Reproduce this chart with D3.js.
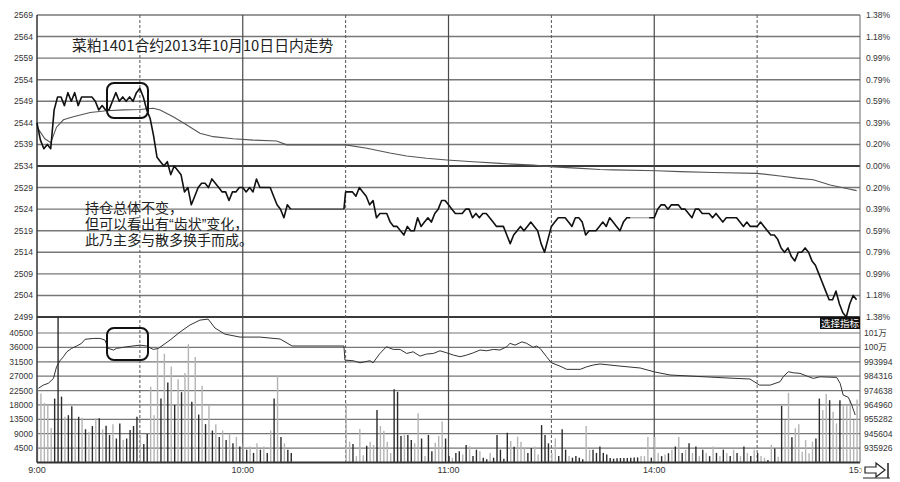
<!DOCTYPE html>
<html><head><meta charset="utf-8">
<script src="https://cdn.jsdelivr.net/npm/d3@7"></script>
<style>body{margin:0;background:#fff}svg{display:block}</style>
</head><body>
<svg id="c" width="900" height="482"></svg>
<script>
// ---------------- data ----------------
const titleText = "菜粕1401合约2013年10月10日日内走势";
const noteLines = ["持仓总体不变，", "但可以看出有“齿状”变化，", "此乃主多与散多换手而成。"];
const priceTicks = [2569,2564,2559,2554,2549,2544,2539,2534,2529,2524,2519,2514,2509,2504,2499];
const pctLabels = ["1.38%","1.18%","0.99%","0.79%","0.59%","0.39%","0.20%","0.00%","0.20%","0.39%","0.59%","0.79%","0.99%","1.18%","1.38%"];
const volTicks = [40500,36000,31500,27000,22500,18000,13500,9000,4500];
const oiLabels = ["101万","100万","993994","984316","974638","964960","955282","945604","935926"];
const timeTicks = [0,60,120,180,240];
const timeLabels = ["9:00","10:00","11:00","14:00","15:00"];
const halfHourDashed = [30,90,150,210];
const halfHourSolid = [60,120,180];
const sessionStarts = [0,90,150];
const sessionLens = [75,60,90];

const price1 = [2544,2540,2538,2539,2538,2547,2550,2550,2548,2551,
 2549,2551,2548,2550,2550,2550,2550,2549,2547,2548,
 2547,2547,2549,2551,2549,2550,2549,2550,2549,2551,
 2552,2550,2547,2545,2541,2536,2535,2534,2535,2532,
 2534,2533,2532,2528,2529,2525,2527,2529,2530,2530,
 2529,2531,2530,2529,2528,2528,2526,2528,2528,2529,
 2529,2528,2529,2528,2531,2529,2529,2529,2529,2527,
 2525,2524,2522,2525,2524];
const price2 = [2528,2528,2528,2527,2529,2528,2527,2525,2526,2522,
 2523,2523,2523,2521,2520,2520,2519,2518,2520,2519,
 2519,2522,2520,2521,2522,2521,2523,2524,2526,2526,
 2525,2524,2523,2523,2523,2524,2524,2522,2523,2522,
 2523,2523,2522,2521,2520,2520,2520,2518,2516,2518,
 2519,2520,2519,2520,2521,2520,2519,2516,2514,2517];
const price3 = [2520,2521,2522,2522,2522,2521,2520,2522,2522,2521,
 2518,2519,2519,2519,2520,2521,2520,2522,2521,2520,
 2519,2521,2522,2522,null,null,null,null,null,2522,
 2522,2524,2525,2525,2524,2525,2525,2525,2524,2524,
 2523,2522,2524,2524,2523,2523,2523,2522,2523,2522,
 2521,2522,2522,2522,2522,2521,2520,2521,2520,2520,
 2520,2521,2520,2519,2518,2518,2517,2515,2514,2515,
 2513,2512,2514,2514,2515,2514,2512,2511,2509,2507,
 2505,2503,2503,2505,2502,2500,2499,2502,2504,2503];

const vol1 = [22000,21600,18600,18000,10800,20000,50000,20600,14300,14800,
 17600,13300,14300,14000,10400,9600,11400,13800,13800,10400,
 11500,8600,12000,7500,12200,7000,7500,10200,11400,14300,
 8600,5800,8900,23700,14800,36000,20000,34000,25000,30000,
 18000,26000,22000,28000,37000,19000,33000,15000,24000,12000,
 18000,10000,12000,8000,10000,7000,9000,6000,8000,5000,
 6000,4000,5000,3000,6000,4000,5000,3000,10000,20000,
 27000,8000,6000,4000,3000];
const vol2 = [18500,6500,5800,2000,10500,2300,5200,6500,5500,16400,
 11400,9900,6500,3000,22900,22100,8300,8600,8600,7000,
 6000,15400,7500,2000,8600,3500,6200,8300,12800,7500,
 2000,1500,3000,3500,2500,5500,5000,2000,4000,3500,
 1500,1000,3000,1500,8600,4000,1200,9300,6700,4900,
 8100,6500,4500,3000,4500,5000,2500,11700,8600,6000];
const vol3 = [3000,7500,2000,10400,4000,2000,1500,2000,1500,1000,
 11400,4000,4000,3000,5000,3000,2500,1400,1200,1300,
 1400,1400,1400,1500,1600,1600,2000,2000,8000,1500,
 8000,3000,2000,2500,2900,4000,5000,8000,3000,4000,
 6000,3000,5000,2000,4000,3000,2000,5000,3000,2000,
 4000,3000,2000,4000,3000,2000,5000,3000,2000,4000,
 3000,2000,1500,800,5500,4400,1800,17700,13300,21800,
 7900,10700,12000,3400,7000,2900,6500,7500,20000,16400,
 21400,19500,15900,12200,19500,18000,18000,19500,13300,19700];
const volTone1 = "gggggkkkgkkgkgkgkgkgkkgkkgkkkkgkkgggkgkgkgkggkgkgkgkgkgkgkgkgkgkgkgkgkgkg";
const volTone2 = "kkggkgggkggkggggkkkgkkggkgkkgggkkgkkgkgkkgkkgkkkkkgkgggkk";
const volTone3 = "ggkkkggkkkgkkkkggkkkkkkkkkkkkkkgggkggkgkgkgkgkgkgkgkgkgkgkgkgkgkgkggkgkgkggkggggggkkggkggk";

const avgTimes = [0,2.3,4,5.7,7.7,10.6,15.5,20.3,25.2,30,33.9,35.9,39.7,43.7,47.5,51.4,57.2,63.1,69.9,72.8,
 90,96.2,102.9,107.8,113.6,119.5,127.2,135,144.7,150.6,157.4,164.2,168.1,180.7,187.5,197.2,209.9,216.7,221.5,226.4,231.3,236.1,239];
const avgPrice = [2543,2540.3,2539.4,2543,2544.7,2545.4,2546.4,2546.8,2547,2547.1,2547.4,2547,2545.4,2543.5,2541.6,2540.8,2540.3,2540,2539.8,2538.9,
 2538.9,2538.1,2537,2536.3,2535.8,2535.4,2535,2534.6,2534.2,2533.8,2533.5,2533.2,2533.1,2532.9,2532.7,2532.5,2532.3,2531.7,2531.2,2530.8,2529.6,2528.8,2528.3];

const oiTimes = [0.4,1.8,3.3,4.8,5.7,6.7,7.7,8.7,10.1,11.6,13,14,16.4,18.4,19.8,20.8,22.3,23.2,26.2,30,32,33.9,35.4,
 38.8,41.7,44.6,47.5,49.9,51.9,54.8,59.2,65,70.9,74.4,89.5,
 89.8,92.2,94.2,97.1,98,100,101.9,103.9,105.9,107.8,109.7,111.7,113.6,115.6,117.5,119.5,121.4,123.4,125.3,127.2,129.2,131.1,133.1,135,137,137.9,139.4,141.4,142.8,144.7,145.7,146.7,148.6,
 150,152.5,154.5,158.4,160.3,162.2,164.2,170,175.9,180.2,184.6,190.4,196.3,202.1,207.9,210.7,213.8,216.7,217.6,219.1,220.6,222.5,224.5,226.4,228.3,233.2,234.2,235.1,236.6,237.6,238.6];
const oiValues = [976100,978300,979500,982800,990600,994700,997400,1000700,1003000,1004600,1006400,1009100,1009700,1009700,1008600,1003000,1001900,1003000,1004100,1005200,1004600,1002300,1003000,
 1008600,1014000,1018700,1022000,1022700,1016700,1012600,1010600,1010600,1009300,1004600,1004600,
 995100,994700,993300,994700,993300,999600,1004100,1002300,1002300,999600,1000700,997800,999200,999600,1001400,1000000,998500,997400,998500,1000000,1001900,1001400,1002300,1001900,1004100,1006400,1005200,1007400,1006400,1003700,1004600,1003000,997400,
 993300,991100,988900,988900,990600,991800,992500,991100,989800,987100,985100,984400,983700,983000,982400,978300,978300,980600,983900,987300,986600,986200,984400,982800,983900,983500,979500,971600,970100,964900,958200];

// ---------------- layout ----------------
const L = 37, R = 860;
const svg = d3.select("#c");
const x = d3.scaleLinear().domain([0,240]).range([L,R]);
const yP = d3.scaleLinear().domain([2499,2569]).range([317,15]);
const yV = d3.scaleLinear().domain([0,40500]).range([462.5,333]);
const yOI = d3.scaleLinear().domain([926248,1013350]).range([462.5,333]);
const font = "'Liberation Sans', Arial, sans-serif";
const cjk = "'Liberation Sans','Noto Sans CJK SC', sans-serif";

const price = [].concat(price1, price2, price3);
const vol = [].concat(vol1, vol2, vol3);
const tone = (volTone1 + volTone2 + volTone3).split("");
const times = [];
sessionStarts.forEach((s,k) => d3.range(sessionLens[k]).forEach(j => times.push(s + j)));

// price grid
svg.append("g").selectAll("line").data(priceTicks).join("line")
  .attr("x1", L).attr("x2", R)
  .attr("y1", d => yP(d)).attr("y2", d => yP(d))
  .attr("stroke", d => (d === 2534 || d === 2499) ? "#3a3a3a" : "#777")
  .attr("stroke-width", d => (d === 2534 || d === 2499) ? 2.2 : 1.4);

// volume grid
svg.append("g").selectAll("line").data(volTicks).join("line")
  .attr("x1", L).attr("x2", R)
  .attr("y1", d => yV(d)).attr("y2", d => yV(d))
  .attr("stroke", "#777").attr("stroke-width", 1.2);

// vertical time lines
svg.append("g").selectAll("line").data(halfHourDashed).join("line")
  .attr("x1", d => x(d)).attr("x2", d => x(d)).attr("y1", yP(2569)).attr("y2", yV(0))
  .attr("stroke", "#555").attr("stroke-width", 1).attr("stroke-dasharray", "3,2");
svg.append("g").selectAll("line").data(halfHourSolid).join("line")
  .attr("x1", d => x(d)).attr("x2", d => x(d)).attr("y1", yP(2569)).attr("y2", yV(0))
  .attr("stroke", "#4a4a4a").attr("stroke-width", 1.2);

// volume bars
svg.append("g").selectAll("line").data(vol).join("line")
  .attr("x1", (d,i) => x(times[i]) + 0.5).attr("x2", (d,i) => x(times[i]) + 0.5)
  .attr("y1", yV(0)).attr("y2", d => Math.max(yP(2499), yV(d)))
  .attr("stroke", (d,i) => tone[i] === "k" ? "#2b2b2b" : "#b4b4b4")
  .attr("stroke-width", 1.4);

// baseline & borders
svg.append("line").attr("x1", L).attr("x2", R).attr("y1", yV(0)).attr("y2", yV(0)).attr("stroke", "#333").attr("stroke-width", 2);
svg.append("line").attr("x1", L).attr("x2", L).attr("y1", yP(2569)).attr("y2", yV(0)).attr("stroke", "#333").attr("stroke-width", 1.5);
svg.append("line").attr("x1", R).attr("x2", R).attr("y1", yP(2569)).attr("y2", yV(0)).attr("stroke", "#666").attr("stroke-width", 1);

// average price line
const avgLine = d3.line().x(d => x(d[0])).y(d => yP(d[1]));
svg.append("path").attr("d", avgLine(avgTimes.map((t,i) => [t, avgPrice[i]])))
  .attr("fill", "none").attr("stroke", "#555").attr("stroke-width", 1.1);

// open interest line
const oiLine = d3.line().x(d => x(d[0])).y(d => yOI(d[1]));
svg.append("path").attr("d", oiLine(oiTimes.map((t,i) => [t, oiValues[i]])))
  .attr("fill", "none").attr("stroke", "#333").attr("stroke-width", 1);

// price line
const pts = price.map((p,i) => ({t: times[i], p})).filter(d => d.p != null);
const runs = []; const gaps = [];
let cur = [pts[0]];
for (let i = 1; i < pts.length; i++) {
  if (pts[i].t - pts[i-1].t > 1) { runs.push(cur); gaps.push({a: pts[i-1], b: pts[i]}); cur = [pts[i]]; }
  else cur.push(pts[i]);
}
runs.push(cur);
const pLine = d3.line().x(d => x(d.t)).y(d => yP(d.p));
gaps.forEach(g => {
  svg.append("path").attr("d", pLine([g.a, {t: g.b.t - 0.5, p: g.a.p}]))
    .attr("fill", "none").attr("stroke", g.b.t - g.a.t > 10 ? "#444" : "#999").attr("stroke-width", 1.1);
  svg.append("path").attr("d", pLine([{t: g.b.t - 0.5, p: g.a.p}, g.b]))
    .attr("fill", "none").attr("stroke", "#111").attr("stroke-width", 1.6);
});
runs.forEach(r => svg.append("path").attr("d", pLine(r))
  .attr("fill", "none").attr("stroke", "#111").attr("stroke-width", 1.6).attr("stroke-linejoin", "round"));

// axis labels
svg.append("g").selectAll("text").data(priceTicks).join("text")
  .attr("x", 33).attr("y", d => yP(d) + 3).attr("text-anchor", "end")
  .attr("font-family", font).attr("font-size", 8.5).attr("fill", "#333").text(d => d);
svg.append("g").selectAll("text").data(pctLabels).join("text")
  .attr("x", 866).attr("y", (d,i) => yP(priceTicks[i]) + 3)
  .attr("font-family", font).attr("font-size", 8.5).attr("fill", "#333").text(d => d);
svg.append("g").selectAll("text").data(volTicks).join("text")
  .attr("x", 33).attr("y", d => yV(d) + 3).attr("text-anchor", "end")
  .attr("font-family", font).attr("font-size", 8.5).attr("fill", "#333").text(d => d);
svg.append("g").selectAll("text").data(oiLabels).join("text")
  .attr("x", 864).attr("y", (d,i) => yV(volTicks[i]) + 3)
  .attr("font-family", cjk).attr("font-size", 8.5).attr("fill", "#333").text(d => d);
svg.append("g").selectAll("text").data(timeTicks).join("text")
  .attr("x", d => x(d)).attr("y", 473).attr("text-anchor", "middle")
  .attr("font-family", font).attr("font-size", 9).attr("fill", "#333").text((d,i) => timeLabels[i]);

// title & note
svg.append("text").attr("x", 72).attr("y", 51).attr("font-family", "'Noto Sans CJK SC', sans-serif")
  .attr("font-size", 14.8).attr("fill", "#222").text(titleText);
svg.append("g").selectAll("text").data(noteLines).join("text")
  .attr("x", 85).attr("y", (d,i) => 213 + i * 16)
  .attr("font-family", cjk).attr("font-size", 14).attr("fill", "#222").text(d => d);

// highlight boxes
[[107, 83, 41, 35], [107, 328, 41, 32]].forEach(b => svg.append("rect")
  .attr("x", b[0]).attr("y", b[1]).attr("width", b[2]).attr("height", b[3]).attr("rx", 7)
  .attr("fill", "none").attr("stroke", "#111").attr("stroke-width", 2));

// "选择指标" tag
svg.append("rect").attr("x", 820).attr("y", 317).attr("width", 40).attr("height", 12).attr("fill", "#111");
svg.append("text").attr("x", 840).attr("y", 327).attr("text-anchor", "middle")
  .attr("font-family", "'Noto Sans CJK SC', sans-serif").attr("font-size", 9.5).attr("fill", "#fff").text("选择指标");

// arrow button at bottom right
svg.append("rect").attr("x", 862).attr("y", 462).attr("width", 38).attr("height", 20).attr("fill", "#fff");
svg.append("path").attr("d", "M865,467 L876,467 L876,463 L885,470 L876,477 L876,473 L865,473 Z")
  .attr("fill", "#fff").attr("stroke", "#222").attr("stroke-width", 1.2);
svg.append("line").attr("x1", 888).attr("x2", 888).attr("y1", 463).attr("y2", 478).attr("stroke", "#222").attr("stroke-width", 1.5);
svg.append("line").attr("x1", 863).attr("x2", 890).attr("y1", 478).attr("y2", 478).attr("stroke", "#222").attr("stroke-width", 1);
</script>
</body></html>
